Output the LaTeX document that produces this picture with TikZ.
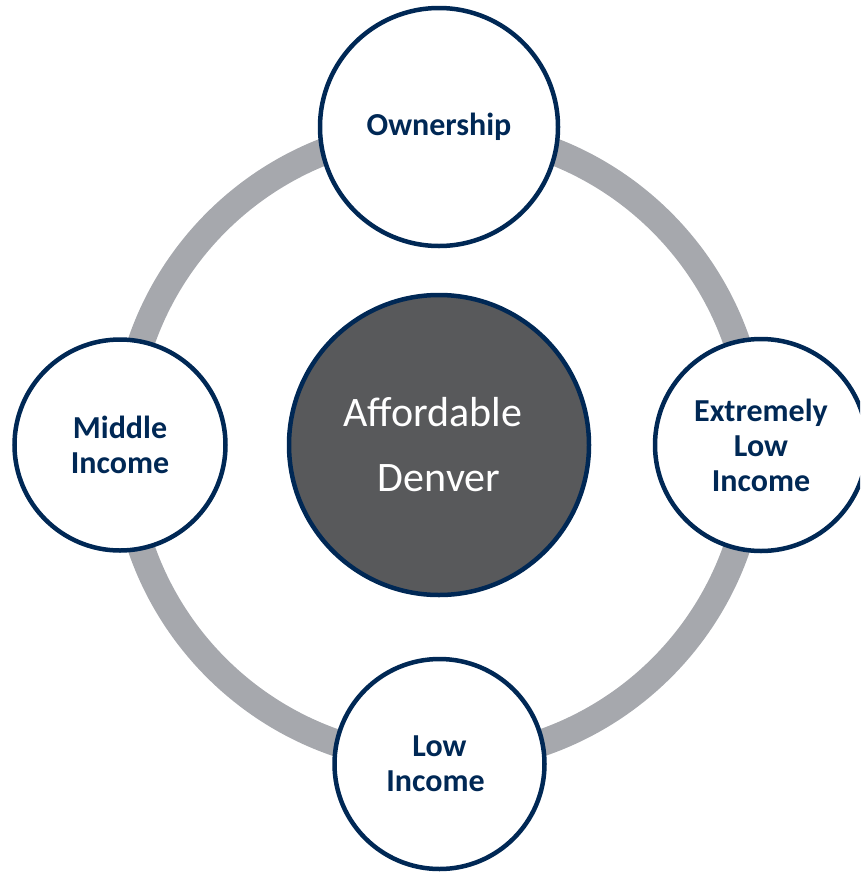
\documentclass[tikz,border=0pt]{standalone}
\usepackage{fontspec}
\setmainfont{Carlito}
\definecolor{navy}{RGB}{0,40,85}
\definecolor{ringgray}{RGB}{166,168,173}
\definecolor{coregray}{RGB}{88,89,91}
\begin{document}
\begin{tikzpicture}[x=1pt,y=-1pt,
  sat/.style={circle, draw=navy, line width=4.5pt, fill=white, inner sep=0pt,
    align=center, text=navy, font=\fontsize{32}{35}\selectfont\bfseries},
  core/.style={circle, draw=navy, line width=4.5pt, fill=coregray, inner sep=0pt,
    align=center, text=white, font=\fontsize{42}{65}\selectfont},
  ring/.style={draw=ringgray, line width=27pt}]
\clip (0,0) rectangle (860,873);
\coordinate (c) at (439,445);
\draw[ring] (c) circle[radius=315];
\node[core, minimum size=300pt] (center) at (c) {Affordable\hspace*{12pt}\\Denver};
\node[sat, minimum size=238pt] (own) at (439,127) {Ownership};
\node[sat, minimum size=212pt] (eli) at (761,445) {Extremely\\Low\\Income};
\node[sat, minimum size=211pt] (mid) at (120,445) {Middle\\Income};
\node[sat, minimum size=210pt] (low) at (439.5,764) {Low\\Income\hspace*{8pt}};
\end{tikzpicture}
\end{document}
